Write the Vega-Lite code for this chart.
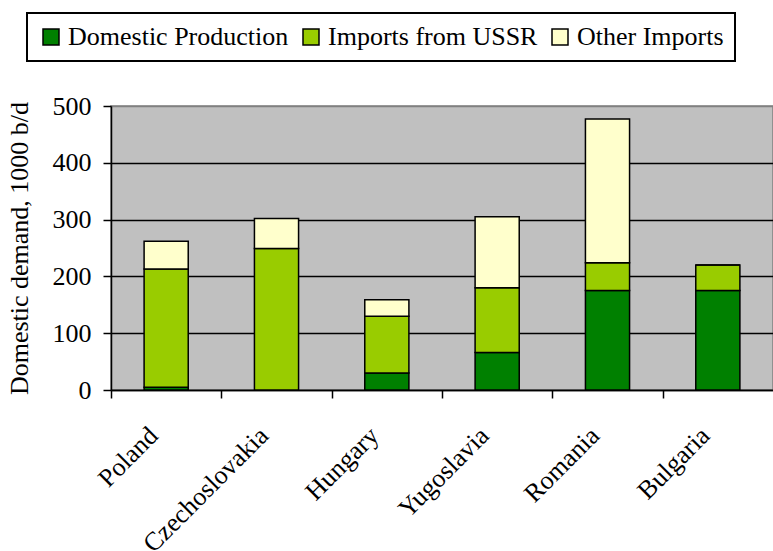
{
  "$schema": "https://vega.github.io/schema/vega-lite/v6.json",
  "autosize": {"type": "none"},
  "padding": {"left": 111, "top": 106, "right": 0, "bottom": 161},
  "width": 662,
  "height": 284,
  "background": "white",
  "config": {
    "font": "Liberation Serif",
    "view": {"fill": "#C0C0C0", "stroke": "#808080", "strokeWidth": 1.5}
  },
  "data": {
    "values": [
      {"country": "Poland", "source": "Domestic Production", "value": 5},
      {"country": "Poland", "source": "Imports from USSR", "value": 208},
      {"country": "Poland", "source": "Other Imports", "value": 49},
      {"country": "Czechoslovakia", "source": "Domestic Production", "value": 0},
      {"country": "Czechoslovakia", "source": "Imports from USSR", "value": 249},
      {"country": "Czechoslovakia", "source": "Other Imports", "value": 53},
      {"country": "Hungary", "source": "Domestic Production", "value": 30},
      {"country": "Hungary", "source": "Imports from USSR", "value": 100},
      {"country": "Hungary", "source": "Other Imports", "value": 29},
      {"country": "Yugoslavia", "source": "Domestic Production", "value": 66},
      {"country": "Yugoslavia", "source": "Imports from USSR", "value": 114},
      {"country": "Yugoslavia", "source": "Other Imports", "value": 125},
      {"country": "Romania", "source": "Domestic Production", "value": 175},
      {"country": "Romania", "source": "Imports from USSR", "value": 49},
      {"country": "Romania", "source": "Other Imports", "value": 253},
      {"country": "Bulgaria", "source": "Domestic Production", "value": 175},
      {"country": "Bulgaria", "source": "Imports from USSR", "value": 45},
      {"country": "Bulgaria", "source": "Other Imports", "value": 0}
    ]
  },
  "mark": {"type": "bar", "stroke": "black", "strokeWidth": 1.5},
  "encoding": {
    "x": {
      "field": "country",
      "type": "nominal",
      "sort": null,
      "scale": {"paddingInner": 0.6, "paddingOuter": 0.3},
      "axis": {
        "title": null,
        "labelAngle": -45,
        "labelAlign": "right",
        "labelBaseline": "top",
        "labelFontSize": 26,
        "labelColor": "black",
        "labelPadding": 24,
        "labelOffset": 33,
        "tickOffset": -55,
        "tickColor": "black",
        "tickWidth": 1.5,
        "tickSize": 8,
        "domainColor": "black",
        "domainWidth": 1.5,
        "grid": false
      }
    },
    "y": {
      "field": "value",
      "type": "quantitative",
      "stack": "zero",
      "scale": {"domain": [0, 500], "nice": false},
      "axis": {
        "values": [0, 100, 200, 300, 400, 500],
        "title": "Domestic demand, 1000 b/d",
        "titleFontSize": 26,
        "titleFontWeight": "normal",
        "titleColor": "black",
        "titlePadding": 20,
        "labelFontSize": 26,
        "labelColor": "black",
        "labelPadding": 12,
        "tickColor": "black",
        "tickWidth": 1.5,
        "tickSize": 8,
        "domainColor": "black",
        "domainWidth": 1.5,
        "grid": true,
        "gridColor": {"condition": {"test": "datum.value == 500", "value": "#808080"}, "value": "black"},
        "gridWidth": 1.5
      }
    },
    "color": {
      "field": "source",
      "type": "nominal",
      "scale": {
        "domain": ["Domestic Production", "Imports from USSR", "Other Imports"],
        "range": ["#008000", "#99CC00", "#FFFFCC"]
      },
      "legend": {
        "title": null,
        "orient": "none",
        "direction": "horizontal",
        "legendX": -84,
        "legendY": -93,
        "fillColor": "white",
        "strokeColor": "black",
        "padding": 11,
        "symbolType": "square",
        "symbolSize": 256,
        "symbolStrokeColor": "black",
        "symbolStrokeWidth": 1.5,
        "symbolOpacity": 1,
        "labelFontSize": 26,
        "labelColor": "black",
        "labelOffset": 4,
        "columnPadding": 9,
        "labelLimit": 400,
        "encode": {"legend": {"update": {"strokeWidth": {"value": 2}}}}
      }
    },
    "order": {"field": "source", "sort": "ascending"}
  }
}
